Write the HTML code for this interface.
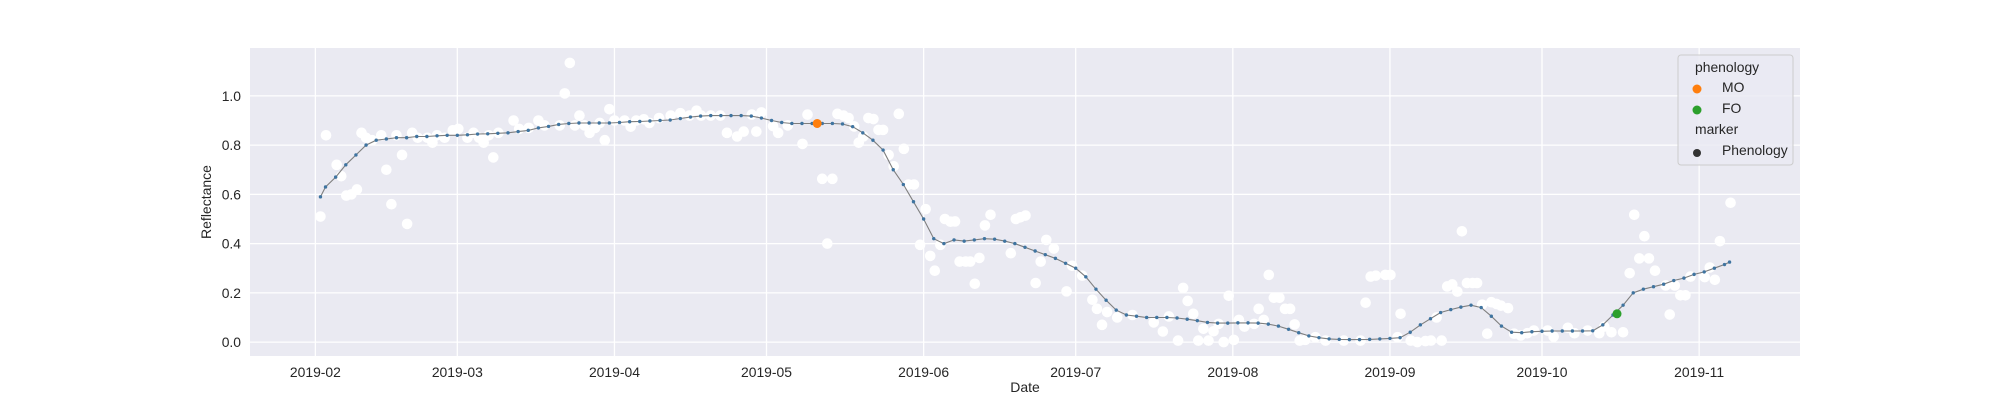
<!DOCTYPE html>
<html><head><meta charset="utf-8"><style>
html,body{margin:0;padding:0;background:#fff;}
svg{display:block;font-family:"Liberation Sans",Arial,sans-serif;}
</style></head><body>
<svg id="chart" width="2000" height="400" viewBox="0 0 2000 400" xmlns="http://www.w3.org/2000/svg">
<rect x="0" y="0" width="2000" height="400" fill="#ffffff"/>
<rect x="250" y="48" width="1550" height="308" fill="#eaeaf2"/>
<g id="grid"></g>
<g id="scatter"></g>
<g id="line"></g>
<g id="pheno"></g>
<g id="ticks"></g>
<text x="1025" y="392" font-size="14" fill="#262626" text-anchor="middle">Date</text>
<text x="0" y="0" font-size="14" fill="#262626" text-anchor="middle" transform="translate(211,202) rotate(-90)">Reflectance</text>
<g>
<rect x="1678" y="55" width="115" height="110" rx="3" fill="#eaeaf2" fill-opacity="0.8" stroke="#cccccc" stroke-width="1"/>
<text x="1695" y="72" font-size="13.9" fill="#262626">phenology</text>
<circle cx="1697" cy="89" r="4.5" fill="#ff7f0e"/>
<text x="1722" y="92" font-size="13.9" fill="#262626">MO</text>
<circle cx="1697" cy="110" r="4.5" fill="#2ca02c"/>
<text x="1722" y="113" font-size="13.9" fill="#262626">FO</text>
<text x="1695" y="134" font-size="13.9" fill="#262626">marker</text>
<circle cx="1697" cy="153" r="4" fill="#333333"/>
<text x="1722" y="155" font-size="13.9" fill="#262626">Phenology</text>
</g>
</svg>
<script>
// days since 2019-02-01
const xTickLabels = ["2019-02","2019-03","2019-04","2019-05","2019-06","2019-07","2019-08","2019-09","2019-10","2019-11"];
const yTickValues = [0.0,0.2,0.4,0.6,0.8,1.0];
const yTickLabels = ["0.0","0.2","0.4","0.6","0.8","1.0"];
const lineValues = [.59,.63,.67,.72,.76,.80,.82,.825,.83,.83,.835,.835,.838,.84,.84,.842,.845,.846,.848,.85,.855,.86,.87,.876,.884,.888,.89,.89,.89,.89,.892,.895,.896,.898,.9,.902,.908,.914,.918,.92,.92,.92,.92,.918,.91,.9,.892,.888,.888,.888,.888,.888,.886,.875,.85,.82,.78,.70,.64,.57,.50,.42,.40,.415,.41,.415,.42,.418,.41,.40,.385,.37,.355,.34,.32,.30,.265,.215,.17,.13,.11,.105,.10,.10,.10,.098,.093,.087,.08,.077,.077,.078,.078,.077,.073,.065,.052,.038,.025,.018,.013,.011,.01,.01,.011,.013,.015,.018,.04,.07,.095,.12,.132,.142,.15,.14,.105,.065,.04,.038,.042,.044,.045,.045,.045,.045,.046,.07,.11,.15,.2,.215,.225,.235,.25,.26,.275,.285,.30,.315,.325];
const scatterDays = [1,2.1,4.2,5.1,6.1,7.1,8.2,9.1,10,11.2,13,14,15,16,17.1,18.1,19.1,20.2,22.1,23.1,24,25.5,27.1,28.2,30,31.2,32.3,33.2,34.2,35.1,36.1,39.1,40.2,42.1,44,45.2,48.2,49.2,50.2,51.2,52.1,53.1,54.1,55.2,56.1,57.1,58,59,61,62.2,63.3,64.8,65.9,67.8,70.1,72,73.8,75.2,76.1,78,79.9,
81.2,83.2,84.5,86.1,87,88,90.3,91.3,93.2,96.1,97.1,100,101,102,103,104.2,105.2,106.3,107.2,108.1,109.1,110.1,111.1,112,113.1,114.1,115.1,116.1,117,118.1,119.3,120.4,121.3,122.2,123.3,124.2,125.3,126.2,127.1,128.3,129.2,130.1,131,132.1,133.2,137.2,138.2,139.1,140.1,142.1,143.1,144.2,
145.7,149.3,151.3,148.2,153.3,154.2,155.2,156.2,158.2,161.2,165.4,167.2,168.4,170.2,171.2,172.1,173.2,174.2,175.2,176.2,177.2,178.2,179.2,180.2,181.2,182.2,183.3,185.2,186.1,187.1,188.1,189.1,190.2,191.3,192.3,193.2,194.2,195.3,197.3,199.3,202.9,206.2,207.2,208.2,209.2,211.1,212.1,214.1,213.5,
216.1,217.4,219,220.1,222.2,221.2,223.3,224.3,225.3,226.2,227.2,228.3,229.2,230.2,231.2,232,233,233.9,235.3,236.5,237.8,239.1,240.4,243.1,244.3,247.1,248.4,251,253.3,254.3,255.7,258,259.3,260.2,261.2,262.2,263.1,264.3,266.4,267.2,268.2,269.3,270.3,271.3,274.1,275.1,276.1,277.1,279.2];
const scatterValues = [.51,.84,.72,.674,.595,.60,.62,.85,.83,.82,.84,.70,.56,.84,.76,.48,.85,.83,.83,.81,.84,.83,.86,.866,.83,.85,.83,.81,.84,.75,.85,.90,.866,.87,.90,.88,.88,1.01,1.134,.88,.92,.88,.85,.87,.89,.82,.946,.90,.90,.875,.90,.905,.89,.91,.92,.93,.92,.94,.92,.92,.92,
.85,.835,.855,.924,.855,.933,.877,.85,.88,.805,.924,.663,.40,.663,.927,.92,.91,.876,.81,.835,.91,.906,.862,.862,.76,.714,.927,.785,.64,.64,.395,.54,.35,.29,.395,.50,.489,.49,.327,.327,.327,.237,.342,.474,.517,.361,.50,.507,.514,.24,.327,.415,
.38,.31,.27,.206,.172,.135,.07,.122,.10,.11,.08,.043,.104,.006,.22,.167,.115,.006,.054,.006,.044,.074,.0,.188,.009,.09,.063,.074,.135,.09,.273,.18,.18,.135,.135,.072,.006,.009,.02,.006,.006,.006,.16,.266,.27,.273,.273,.115,.02,
.006,.0,.004,.006,.006,.1,.226,.234,.205,.45,.24,.24,.24,.152,.034,.162,.155,.148,.138,.034,.027,.036,.047,.047,.022,.058,.036,.047,.036,.063,.04,.04,.28,.517,.34,.43,.34,.29,.23,.112,.23,.19,.19,.266,.264,.303,.253,.41,.566];
const phenoLabels = ["MO","FO"];
const phenoDays = [99,256.8];
const phenoValues = [0.888,0.115];
const phenoColors = ["#ff7f0e","#2ca02c"];

const NS="http://www.w3.org/2000/svg";
const X0=250,X1=1800,Y0=48,Y1=356;
const dMin=1, dMax=279, pad=(dMax-dMin)*0.05;
const vMin=-0.0565, vMax=1.1945;
function xs(d){return X0+(d-(dMin-pad))/((dMax+pad)-(dMin-pad))*(X1-X0);}
function ys(v){return Y1-(v-vMin)/(vMax-vMin)*(Y1-Y0);}
function dayOf(s){const p=s.split("-");return (Date.UTC(+p[0],+p[1]-1,p[2]?+p[2]:1)-Date.UTC(2019,1,1))/86400000;}
function mk(tag,attrs,parent){const e=document.createElementNS(NS,tag);for(const k in attrs)e.setAttribute(k,attrs[k]);parent.appendChild(e);return e;}
const grid=document.getElementById('grid'),ticks=document.getElementById('ticks');
xTickLabels.forEach(lbl=>{
  const x=xs(dayOf(lbl));
  const l=mk('line',{x1:x,x2:x,y1:Y0,y2:Y1,stroke:'#ffffff','stroke-width':1.3},grid);
  
  
  const t=mk('text',{x:x,y:377,'font-size':13.9,fill:'#262626','text-anchor':'middle'},ticks);
  t.textContent=lbl;
  
  
});
yTickValues.forEach((v,i)=>{
  const y=ys(v);
  const l=mk('line',{x1:X0,x2:X1,y1:y,y2:y,stroke:'#ffffff','stroke-width':1.3},grid);
  
  
  const t=mk('text',{x:241,y:y+5,'font-size':13.9,fill:'#262626','text-anchor':'end'},ticks);
  t.textContent=yTickLabels[i];
  
  
});
const sc=document.getElementById('scatter');
scatterDays.forEach((d,i)=>{
  const c=mk('circle',{cx:xs(d),cy:ys(scatterValues[i]),r:5.3,fill:'#ffffff'},sc);
  
  
});
const lg=document.getElementById('line');
const lineDays=lineValues.map((v,i)=>Math.min(dMax,Math.max(dMin,2*i)));
const pts=lineDays.map((d,i)=>xs(d).toFixed(1)+','+ys(lineValues[i]).toFixed(1)).join(' ');
const pl=mk('polyline',{points:pts,fill:'none',stroke:'#7f7f7f','stroke-width':1.1},lg);


lineDays.forEach((d,i)=>{
  const c=mk('circle',{cx:xs(d),cy:ys(lineValues[i]),r:1.7,fill:'#3f74a0'},lg);
  
  
});
const pg=document.getElementById('pheno');
phenoDays.forEach((d,i)=>{
  const c=mk('circle',{cx:xs(d),cy:ys(phenoValues[i]),r:4.5,fill:phenoColors[i]},pg);
  
  
});
</script>
</body></html>
